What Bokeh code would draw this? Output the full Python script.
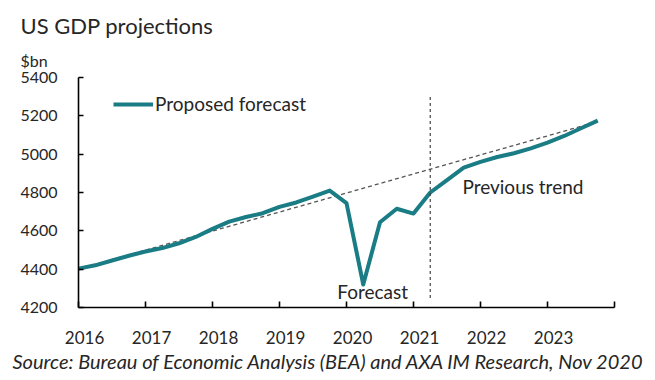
from bokeh.plotting import figure
from bokeh.models import (FixedTicker, LinearAxis, Label, Legend, LegendItem, Title)
from bokeh.embed import file_html
from bokeh.resources import INLINE

# ---- data ----
quarters = [2016.0, 2016.25, 2016.5, 2016.75,
            2017.0, 2017.25, 2017.5, 2017.75,
            2018.0, 2018.25, 2018.5, 2018.75,
            2019.0, 2019.25, 2019.5, 2019.75,
            2020.0, 2020.25, 2020.5, 2020.75,
            2021.0, 2021.25, 2021.5, 2021.75,
            2022.0, 2022.25, 2022.5, 2022.75,
            2023.0, 2023.25, 2023.5, 2023.75]
proposed_forecast = [4403, 4420, 4445, 4470, 4492, 4510, 4535, 4568,
                     4610, 4648, 4672, 4692, 4725, 4748, 4778, 4810,
                     4745, 4320, 4645, 4715, 4690, 4800, 4865, 4930,
                     4960, 4985, 5005, 5030, 5060, 5095, 5135, 5175]
trend_x = [2016.0, 2023.75]
previous_trend = [4400, 5170]
forecast_start = 2021.25
forecast_marker_y = [4250, 5305]
years = [2016, 2017, 2018, 2019, 2020, 2021, 2022, 2023, 2024]
year_labels = ["2016", "2017", "2018", "2019", "2020", "2021", "2022", "2023"]
y_ticks = [4200, 4400, 4600, 4800, 5000, 5200, 5400]

FONT = "Lato"
TEAL = "#1a7c84"
TXT = "#262626"

p = figure(width=655, height=380, x_range=(2016, 2024), y_range=(4200, 5400),
           output_backend="svg", toolbar_location=None,
           min_border_left=78, min_border_right=41, min_border_top=77,
           min_border_bottom=73, x_axis_location=None, y_axis_location=None)
p.outline_line_color = None
p.xgrid.visible = False
p.ygrid.visible = False
p.background_fill_color = "white"
p.border_fill_color = "white"

# titles (p.title is outermost, the added Title sits next to the frame)
p.title.text = "US GDP projections"
p.title.text_font = FONT
p.title.text_font_size = "22px"
p.title.text_font_style = "normal"
p.title.text_color = TXT
p.title.align = "left"
p.title.offset = -58
p.title.standoff = 10
p.add_layout(Title(text="$bn", text_font=FONT, text_font_size="16px",
                   text_font_style="normal", text_color=TXT, align="left", offset=-58,
                   standoff=13, vertical_align="middle"), "above")

# y axis
yax = LinearAxis(ticker=FixedTicker(ticks=y_ticks))
yax.major_tick_in = 5
yax.major_tick_out = 0
yax.minor_tick_line_color = None
yax.axis_line_color = "black"
yax.axis_line_width = 1.6
yax.major_tick_line_width = 1.6
yax.major_label_text_font = FONT
yax.major_label_text_font_size = "16px"
yax.major_label_text_color = TXT
yax.major_label_standoff = 21
p.add_layout(yax, "left")

# x axis: tick marks at year boundaries (minor), labels slightly offset (major)
label_pos = [y + 0.09 for y in years[:-1]]
xax = LinearAxis(ticker=FixedTicker(ticks=label_pos, minor_ticks=years))
xax.major_label_overrides = {pos: lab for pos, lab in zip(label_pos, year_labels)}
xax.major_tick_line_color = None
xax.minor_tick_in = 6
xax.minor_tick_out = 0
xax.minor_tick_line_color = "black"
xax.minor_tick_line_width = 1.6
xax.axis_line_color = "black"
xax.axis_line_width = 1.6
xax.major_label_text_font = FONT
xax.major_label_text_font_size = "17px"
xax.major_label_text_color = TXT
xax.major_label_standoff = 17
p.add_layout(xax, "below")

p.add_layout(Title(text="Source: Bureau of Economic Analysis (BEA) and AXA IM Research, Nov 2020",
                   text_font=FONT, text_font_size="20px", text_font_style="italic",
                   text_color=TXT, align="left", offset=-66, standoff=0), "below")

# series
p.line(trend_x, previous_trend, line_color="#555555", line_width=1.3, line_dash="4 3")
r = p.line(quarters, proposed_forecast, line_color=TEAL, line_width=4, line_join="round")
p.segment(x0=[forecast_start], y0=[forecast_marker_y[0]], x1=[forecast_start],
          y1=[forecast_marker_y[1]], line_color="#444444", line_width=1.2, line_dash="3 3")

legend = Legend(items=[LegendItem(label="Proposed forecast", renderers=[r])],
                location=(35, 192), glyph_width=40, glyph_height=20, label_standoff=2,
                padding=0, margin=0, border_line_color=None, background_fill_alpha=0,
                label_text_font=FONT, label_text_font_size="19px", label_text_color=TXT)
p.add_layout(legend, "center")

p.add_layout(Label(x=2020.39, y=4283, text="Forecast", text_font=FONT, text_font_size="19px",
                   text_color=TXT, text_align="center", text_baseline="middle"))
p.add_layout(Label(x=2021.73, y=4831, text="Previous trend", text_font=FONT, text_font_size="19px",
                   text_color=TXT, text_align="left", text_baseline="middle"))

open("out.html", "w").write(file_html(p, INLINE))
